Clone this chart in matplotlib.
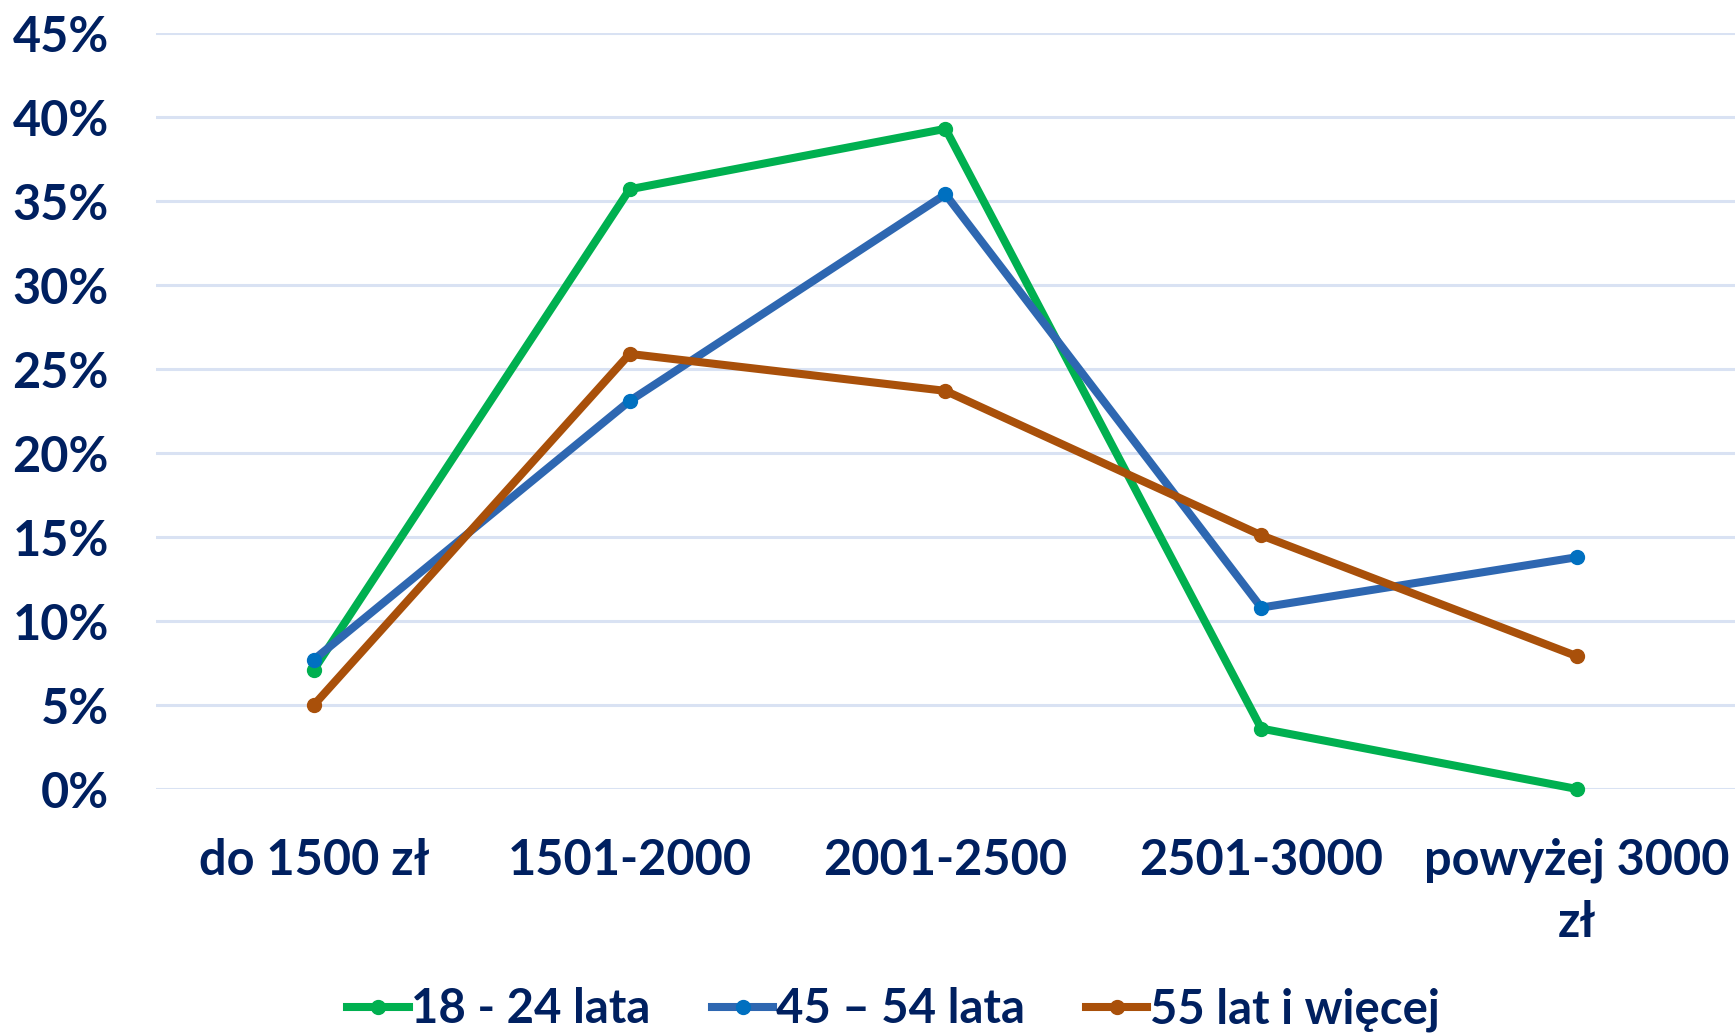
import matplotlib.pyplot as plt
from matplotlib.ticker import FuncFormatter

# Income groups and shares per age group (%)
categories = ['do 1500 zł', '1501-2000', '2001-2500', '2501-3000', 'powyżej 3000\nzł']
age_18_24 = [7.1, 35.7, 39.3, 3.6, 0.0]
age_45_54 = [7.7, 23.1, 35.4, 10.8, 13.8]
age_55_plus = [5.0, 25.9, 23.7, 15.1, 7.9]

navy = '#002060'
plt.rcParams['font.family'] = ['Lato', 'DejaVu Sans']
plt.rcParams['font.weight'] = 'bold'

fig = plt.figure(figsize=(17.35, 10.36), dpi=100)
ax = fig.add_axes([0.0899, 0.2384, 0.9101, 0.7297])

x = range(len(categories))
series = [
    (age_18_24, '18 - 24 lata', '#00B050', '#00B050'),
    (age_45_54, '45 – 54 lata', '#2E67B1', '#0070C0'),
    (age_55_plus, '55 lat i więcej', '#A9500A', '#A9500A'),
]
for vals, label, color, mcolor in series:
    ax.plot(x, vals, color=color, linewidth=5.8, marker='o', markersize=10,
            markerfacecolor=mcolor, markeredgecolor=mcolor,
            label=label, clip_on=False, zorder=3)

ax.set_xlim(-0.5, 4.5)
ax.set_ylim(0, 45)
ax.set_yticks(range(0, 50, 5))
ax.yaxis.set_major_formatter(FuncFormatter(lambda v, p: f'{int(v)}%'))
ax.grid(axis='y', color='#D9E2F3', linewidth=2.2, zorder=0)
ax.set_axisbelow(True)

ax.set_xticks(list(x))
ax.set_xticklabels(categories, linespacing=1.45)
ax.tick_params(axis='y', length=0, pad=34, labelsize=35, labelcolor=navy)
ax.tick_params(axis='x', length=0, pad=35, labelsize=35, labelcolor=navy)
for lab in ax.get_xticklabels() + ax.get_yticklabels():
    lab.set_fontweight('bold')

for s in ax.spines.values():
    s.set_visible(False)

leg = fig.legend(loc='lower center', bbox_to_anchor=(0.515, -0.037), ncol=3,
                 frameon=False, handlelength=1.3, handletextpad=0.05,
                 columnspacing=1.3, prop={'size': 34, 'weight': 'bold'})
for t in leg.get_texts():
    t.set_color(navy)

fig.savefig('out.png', dpi=100)
